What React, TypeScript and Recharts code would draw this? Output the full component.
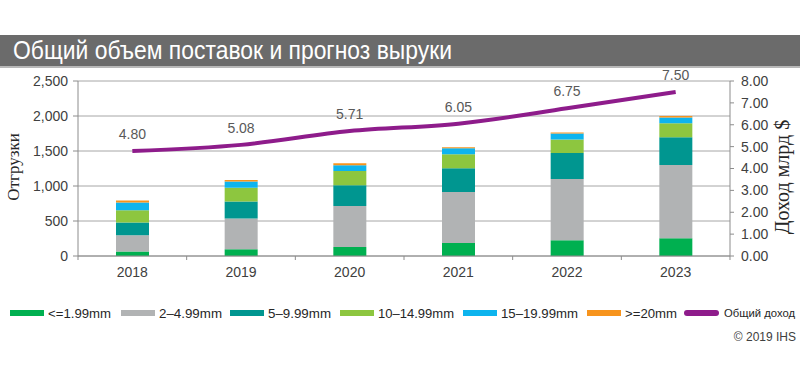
import {
  ComposedChart,
  Bar,
  Line,
  XAxis,
  YAxis,
  CartesianGrid,
  Legend,
  LabelList,
} from "recharts";

const years = ["2018", "2019", "2020", "2021", "2022", "2023"];
const size0 = [65, 95, 130, 185, 225, 255]; // <=1.99mm
const size2 = [230, 440, 585, 730, 875, 1045]; // 2–4.99mm
const size5 = [185, 245, 295, 340, 370, 395]; // 5–9.99mm
const size10 = [175, 195, 205, 200, 195, 200]; // 10–14.99mm
const size15 = [110, 90, 80, 85, 85, 85]; // 15–19.99mm
const size20 = [28, 20, 30, 15, 15, 20]; // >=20mm
const revenue = [4.8, 5.08, 5.71, 6.05, 6.75, 7.5];

const leftTicks = [0, 500, 1000, 1500, 2000, 2500];
const rightTicks = [0, 1, 2, 3, 4, 5, 6, 7, 8];

const SERIES = [
  { key: "s0", name: "<=1.99mm", color: "#00b050" },
  { key: "s2", name: "2–4.99mm", color: "#b1b3b4" },
  { key: "s5", name: "5–9.99mm", color: "#009690" },
  { key: "s10", name: "10–14.99mm", color: "#8dc63f" },
  { key: "s15", name: "15–19.99mm", color: "#0db4ee" },
  { key: "s20", name: ">=20mm", color: "#f7941d" },
];
const LINE_COLOR = "#8e1c8b";

const data = years.map((year, i) => ({
  year,
  s0: size0[i],
  s2: size2[i],
  s5: size5[i],
  s10: size10[i],
  s15: size15[i],
  s20: size20[i],
  revenue: revenue[i],
}));

const AXIS = "#8c8c8c";
const HALF_BAND = 54.33;
const SANS = "Liberation Sans, Arial";
const SERIF = "Liberation Serif, Times New Roman, serif";

const YearTick = (props: any) => {
  const { x, y, payload, index } = props;
  return (
    <g>
      <line x1={x - HALF_BAND} y1={y} x2={x - HALF_BAND} y2={y + 4} stroke={AXIS} />
      {index === years.length - 1 && (
        <line x1={x + HALF_BAND} y1={y} x2={x + HALF_BAND} y2={y + 4} stroke={AXIS} />
      )}
      <text x={x} y={y + 21} textAnchor="middle" fill="#404040" fontSize={14} fontFamily={SANS}>
        {payload.value}
      </text>
    </g>
  );
};

const legendItems = [
  { name: SERIES[0].name, color: SERIES[0].color, x: 10, tx: 48, w: 63 },
  { name: SERIES[1].name, color: SERIES[1].color, x: 121, tx: 159, w: 63 },
  { name: SERIES[2].name, color: SERIES[2].color, x: 230, tx: 268, w: 63 },
  { name: SERIES[3].name, color: SERIES[3].color, x: 340, tx: 378, w: 76 },
  { name: SERIES[4].name, color: SERIES[4].color, x: 463, tx: 501, w: 77 },
  { name: SERIES[5].name, color: SERIES[5].color, x: 587, tx: 625, w: 52 },
];

const ChartLegend = () => (
  <svg width={800} height={40} style={{ display: "block" }}>
    {legendItems.map((it) => (
      <g key={it.name}>
        <rect x={it.x} y={7} width={34} height={6} fill={it.color} />
        <text x={it.tx} y={15} fontSize={13.5} fill="#262626" fontFamily={SANS} textLength={it.w} lengthAdjust="spacingAndGlyphs">
          {it.name}
        </text>
      </g>
    ))}
    <rect x={684} y={7} width={35} height={6} rx={3} fill={LINE_COLOR} />
    <text x={724} y={14} fontSize={10.5} fill="#262626" fontFamily={SANS} textLength={71} lengthAdjust="spacingAndGlyphs">
      Общий доход
    </text>
    <text x={796} y={38} fontSize={12} textAnchor="end" fill="#404040" fontFamily={SANS}>
      © 2019 IHS
    </text>
  </svg>
);

export default function App() {
  return (
    <div style={{ position: "absolute", left: 0, top: 0, width: 800, height: 370, background: "#fff" }}>
      <svg width={800} height={70} style={{ position: "absolute", left: 0, top: 0 }}>
        <rect x={0} y={35} width={800} height={31} fill="#6b6b6b" />
        <rect x={0} y={66} width={800} height={2} fill="#b8b8b8" />
        <text x={13} y={59} fill="#ffffff" fontSize={25} fontFamily={SANS} textLength={439} lengthAdjust="spacingAndGlyphs">
          Общий объем поставок и прогноз выруки
        </text>
      </svg>
      <ComposedChart
        width={800}
        height={370}
        data={data}
        margin={{ top: 81, right: 0, bottom: 44, left: 0 }}
        barCategoryGap={0}
      >
        <CartesianGrid yAxisId="left" vertical={false} stroke="#a6a6a6" />
        <XAxis
          dataKey="year"
          height={30}
          tickSize={0}
          tickMargin={0}
          axisLine={{ stroke: AXIS }}
          tickLine={false}
          tick={<YearTick />}
          interval={0}
        />
        <YAxis
          yAxisId="left"
          width={78}
          domain={[0, 2500]}
          ticks={leftTicks}
          tickSize={5}
          tickMargin={5}
          axisLine={{ stroke: AXIS }}
          tickLine={{ stroke: AXIS }}
          tick={{ fill: "#404040", fontSize: 14, fontFamily: SANS }}
          tickFormatter={(v: number) => v.toLocaleString("en-US")}
        />
        <YAxis
          yAxisId="right"
          orientation="right"
          width={70}
          domain={[0, 8]}
          ticks={rightTicks}
          tickSize={4}
          tickMargin={7}
          axisLine={{ stroke: AXIS }}
          tickLine={{ stroke: AXIS }}
          tick={{ fill: "#404040", fontSize: 14, fontFamily: SANS }}
          tickFormatter={(v: number) => v.toFixed(2)}
        />
        {SERIES.map((s) => (
          <Bar
            key={s.key}
            yAxisId="left"
            dataKey={s.key}
            name={s.name}
            stackId="a"
            fill={s.color}
            barSize={33}
            isAnimationActive={false}
          />
        ))}
        <Line
          yAxisId="right"
          type="monotone"
          dataKey="revenue"
          name="Общий доход"
          stroke={LINE_COLOR}
          strokeWidth={4}
          dot={false}
          activeDot={false}
          isAnimationActive={false}
        >
          <LabelList
            dataKey="revenue"
            position="top"
            offset={12}
            fill="#595959"
            fontSize={14}
            fontFamily={SANS}
            formatter={(v: any) => Number(v).toFixed(2)}
          />
        </Line>
        <Legend
          content={<ChartLegend />}
          wrapperStyle={{ position: "absolute", left: 0, top: 303, width: 800, height: 40 }}
        />
      </ComposedChart>
      <svg width={800} height={370} style={{ position: "absolute", left: 0, top: 0, pointerEvents: "none" }}>
        <text x={15} y={167} transform="rotate(-90 15 167)" textAnchor="middle" dominantBaseline="middle" fill="#262626" fontSize={17} fontFamily={SERIF}>
          Отгрузки
        </text>
        <text x={784} y={177} transform="rotate(-90 784 177)" textAnchor="middle" dominantBaseline="middle" fill="#262626" fontSize={20} fontFamily={SERIF}>
          Доход млрд $
        </text>
      </svg>
    </div>
  );
}
